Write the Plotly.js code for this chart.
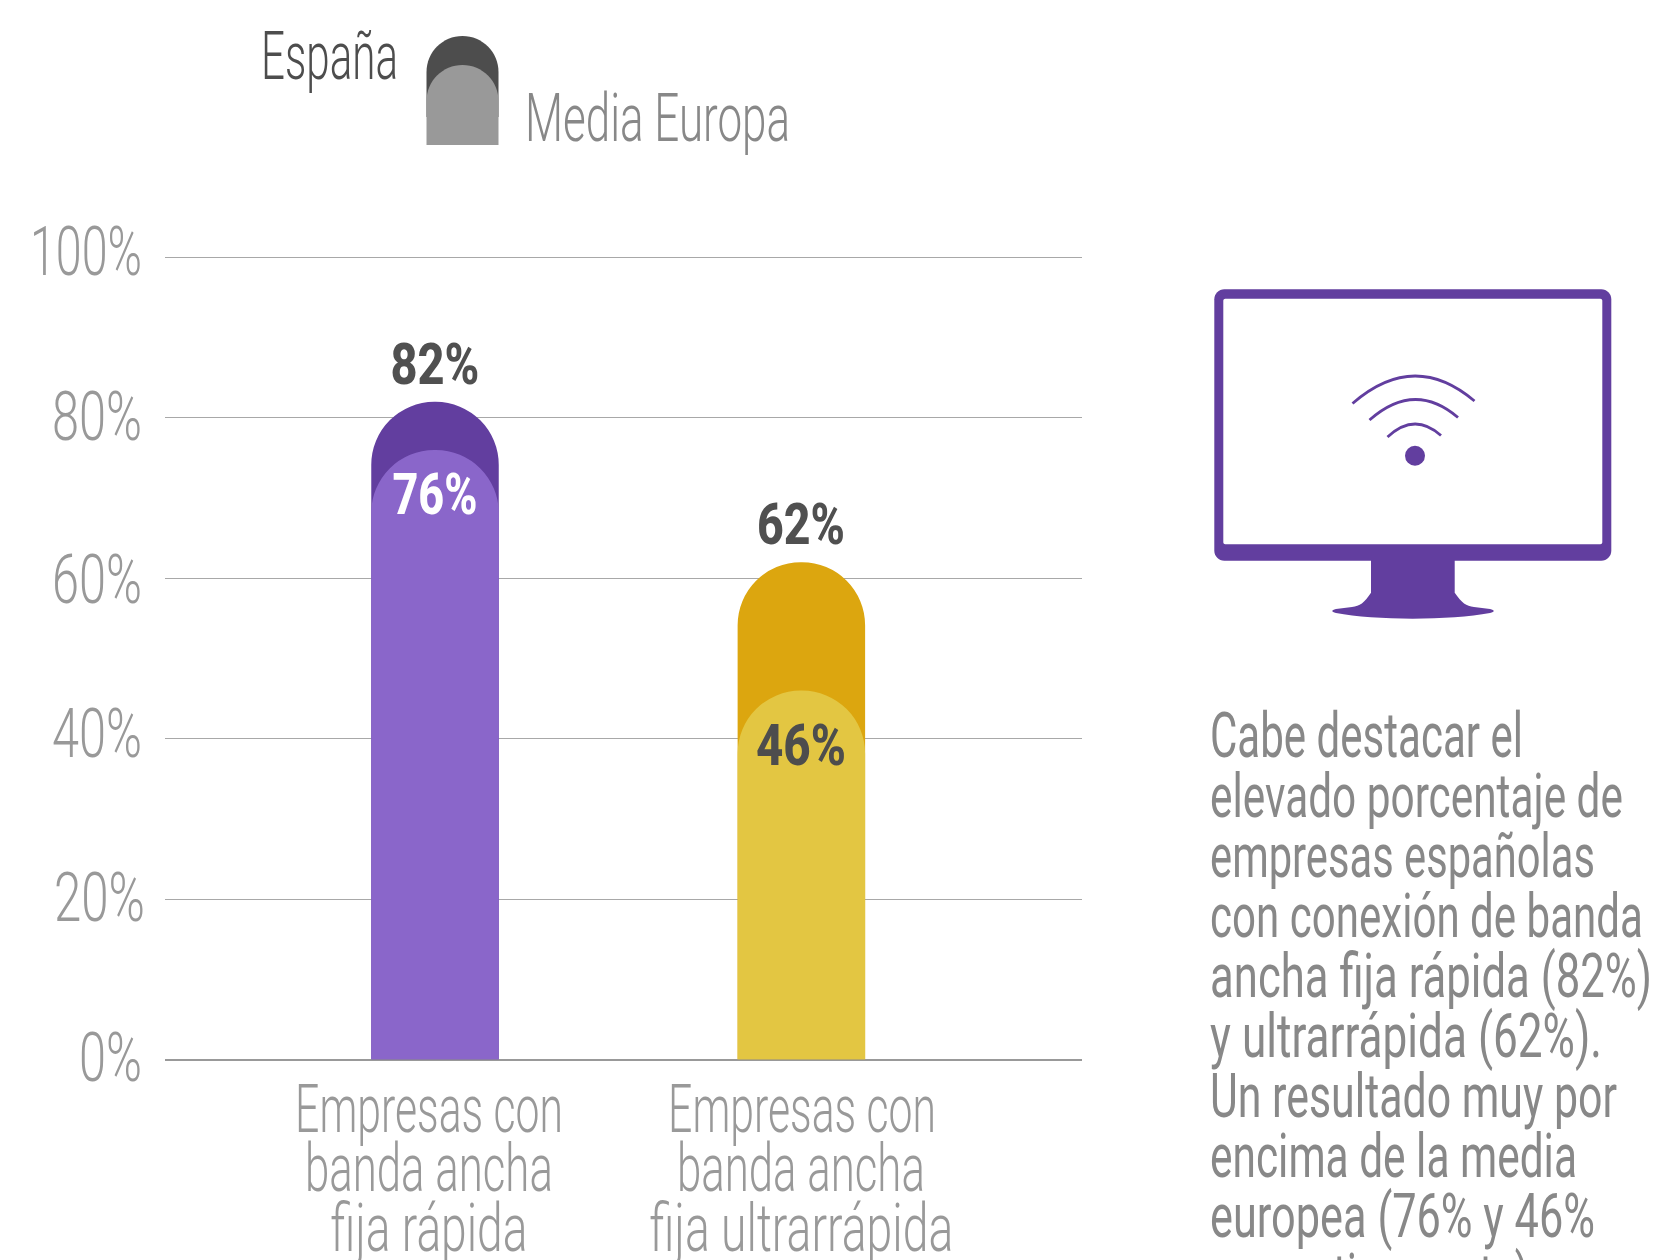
<!DOCTYPE html>
<html><head><meta charset="utf-8">
<style>html,body{margin:0;padding:0;background:#fff;overflow:hidden}#chart{width:1660px;height:1260px}</style>
<script src="https://cdn.plot.ly/plotly-3.0.1.min.js"></script></head>
<body><div id="chart"></div>
<script>
const categories = ["Empresas con banda ancha fija rápida", "Empresas con banda ancha fija ultrarrápida"];
const categoryLines = [["Empresas con", "banda ancha", "fija rápida"], ["Empresas con", "banda ancha", "fija ultrarrápida"]];
const espana = [82, 62];
const mediaEuropa = [76, 46];
const espanaColors = ["#623e9f", "#dca60f"];
const europaColors = ["#8a66ca", "#e3c642"];
const yTicks = [0, 20, 40, 60, 80, 100];
const yTickLabels = ["0%", "20%", "40%", "60%", "80%", "100%"];
const sideText = ["Cabe destacar el", "elevado porcentaje de", "empresas españolas", "con conexión de banda", "ancha fija rápida (82%)", "y ultrarrápida (62%).", "Un resultado muy por", "encima de la media", "europea (76% y 46%", "respectivamente)."];

const W = 1660, H = 1260;
const px = x => x / W, py = y => 1 - y / H;
const FONT = "Roboto, 'Liberation Sans Narrow', sans-serif";
const P = (x, y) => px(x) + "," + py(y);
function roundTop(x0, x1, top, bottom) {
  const r = (x1 - x0) / 2, k = 0.5523 * r, m = (x0 + x1) / 2;
  return "M" + P(x0, bottom) + " L" + P(x0, top + r) +
    " C" + P(x0, top + r - k) + " " + P(m - k, top) + " " + P(m, top) +
    " C" + P(m + k, top) + " " + P(x1, top + r - k) + " " + P(x1, top + r) +
    " L" + P(x1, bottom) + " Z";
}
function roundRect(x0, y0, x1, y1, r) {
  const k = 0.45 * r;
  return "M" + P(x0 + r, y0) + " L" + P(x1 - r, y0) + " C" + P(x1 - k, y0) + " " + P(x1, y0 + k) + " " + P(x1, y0 + r) +
    " L" + P(x1, y1 - r) + " C" + P(x1, y1 - k) + " " + P(x1 - k, y1) + " " + P(x1 - r, y1) +
    " L" + P(x0 + r, y1) + " C" + P(x0 + k, y1) + " " + P(x0, y1 - k) + " " + P(x0, y1 - r) +
    " L" + P(x0, y0 + r) + " C" + P(x0, y0 + k) + " " + P(x0 + k, y0) + " " + P(x0 + r, y0) + " Z";
}
const purple = "#623e9f";
const solid = (path, color) => ({type: "path", xref: "paper", yref: "paper", path, fillcolor: color, line: {width: 0}, layer: "above"});
const arc = (x0, y0, xm, ym, x1, y1) => ({type: "path", xref: "paper", yref: "paper",
  path: "M" + P(x0, y0) + " Q" + P(xm, 2 * ym - (y0 + y1) / 2) + " " + P(x1, y1),
  line: {color: purple, width: 2.8}, fillcolor: "rgba(0,0,0,0)", layer: "above"});

const shapes = [
  solid(roundTop(426.5, 498.5, 36, 117), "#4d4d4d"),
  solid(roundTop(426.5, 498.5, 65, 145), "#999999"),
  solid(roundRect(1214.3, 289.3, 1611.3, 560.7, 10), purple),
  solid(roundRect(1223.3, 298.7, 1602.3, 544.3, 2), "#ffffff"),
  solid("M" + P(1371, 560) + " L" + P(1454.7, 560) + " L" + P(1454.7, 592.7) +
    " C" + P(1462, 603) + " " + P(1466, 606) + " " + P(1474, 607) +
    " L" + P(1490, 609) + " C" + P(1495, 610) + " " + P(1495, 612) + " " + P(1490, 613) +
    " C" + P(1450, 620.5) + " " + P(1375, 620.5) + " " + P(1336, 613) +
    " C" + P(1331, 612) + " " + P(1331, 610) + " " + P(1336, 609) +
    " L" + P(1352, 607) + " C" + P(1360, 606) + " " + P(1364, 603) + " " + P(1371, 592.7) + " Z", purple),
  arc(1352.5, 403.5, 1414, 376, 1474.5, 401),
  arc(1369.5, 420, 1414.5, 399.5, 1458, 417.5),
  arc(1387.5, 437, 1414.5, 424, 1441, 435.5),
  {type: "circle", xref: "paper", yref: "paper", x0: px(1405), x1: px(1425), y0: py(465.7), y1: py(445.7), fillcolor: purple, line: {width: 0}, layer: "above"}
];

// each annotation: text, baseline y in px, target width in px (glyphs are fitted to it)
const annotations = [], fit = [];
const DESC = 0.24;
function label(text, x, baseline, size, color, weight, anchor, width, opts) {
  annotations.push(Object.assign({
    text, x: px(x), xref: "paper", yref: "paper", xanchor: anchor, yanchor: "bottom",
    y: py(baseline + DESC * size + 1), showarrow: false, borderpad: 0, borderwidth: 0,
    font: {family: FONT, size, color, weight}
  }, opts || {}));
  fit.push({width, anchor});
}
// category labels
const catCenters = [[429.3, 428.8, 428.8], [802, 801.4, 801]];
const catWidths = [[268, 248, 197], [268, 248, 304]];
const catBaselines = [1131.7, 1191, 1250.7];
categoryLines.forEach((lines, i) => lines.forEach((t, j) =>
  label(t, catCenters[i][j], catBaselines[j] - 1, 66, "#999999", 300, "center", catWidths[i][j])));
// value labels, anchored to the data axis
const VS = 58;
const valueLabel = (v, i, baseline, valueY, color, width) => label(v + "%", 0, baseline, VS, color, 800, "center", width, {
  xref: "x", x: i, yref: "y", y: v, yshift: valueY - baseline - DESC * VS - 1});
valueLabel(espana[0], 0, 383, 402, "#505050", 89);
valueLabel(espana[1], 1, 543, 562, "#505050", 88);
valueLabel(mediaEuropa[0], 0, 512.7, 450, "#ffffff", 85);
valueLabel(mediaEuropa[1], 1, 765, 691, "#4d4d4d", 90);
// legend labels
label("España", 261, 78, 66, "#4d4d4d", 300, "left", 137);
label("Media Europa", 524.5, 139.7, 66, "#888888", 300, "left", 265);
// side paragraph
const sideWidths = [313, 413, 385, 433, 442, 392, 407, 367, 385, 330];
sideText.forEach((t, i) => label(t, 1210, 756 + i * 60.05, 62, "#888888", 400, "left", sideWidths[i]));

const barTrace = (name, y, colors, xa, ya) => ({
  type: "bar", name, x: categories, y, width: 0.348, showlegend: false, hoverinfo: "skip", xaxis: xa, yaxis: ya,
  marker: {color: colors, cornerradius: "50%", line: {width: 0}}
});
const traces = [barTrace("España", espana, espanaColors, "x", "y"), barTrace("Media Europa", mediaEuropa, europaColors, "x2", "y2")];

const X_RANGE = [-0.737, 1.766], Y_RANGE = [0, 102];
const X_DOMAIN = [px(165), px(1082)], Y_DOMAIN = [py(1059.5), py(1059.5 - 102 * 8.02)];
const layout = {
  width: W, height: H, margin: {l: 0, r: 0, t: 0, b: 0}, paper_bgcolor: "#fff", plot_bgcolor: "#fff",
  barmode: "overlay", showlegend: false, shapes, annotations,
  font: {family: FONT},
  xaxis: {type: "category", domain: X_DOMAIN, range: X_RANGE, showticklabels: false, showgrid: false, zeroline: false, showline: false, ticks: "", fixedrange: true},
  yaxis: {domain: Y_DOMAIN, range: Y_RANGE, tickmode: "array", tickvals: yTicks, ticktext: yTickLabels,
    tickfont: {family: FONT, size: 68, color: "#999999", weight: 300}, ticks: "", ticklabelstandoff: 22,
    gridcolor: "#a8a8a8", gridwidth: 1, zeroline: true, zerolinecolor: "#999999", zerolinewidth: 2, showline: false, fixedrange: true},
  xaxis2: {type: "category", overlaying: "x", anchor: "y2", domain: X_DOMAIN, range: X_RANGE, visible: false, fixedrange: true},
  yaxis2: {overlaying: "y", anchor: "x2", domain: Y_DOMAIN, range: Y_RANGE, visible: false, fixedrange: true}
};

// fine placement of the tick labels: target width, nudge in px
const tickFit = {"0%": [63, 0, -2], "20%": [91, 3, -2], "40%": [90, 0, -6], "60%": [90, 0, 1], "80%": [90, 0, -2], "100%": [112, 0, -6]};
function fitText(el, width, anchor, dx, dy) {
  const b = el.getBBox();
  const cx = anchor === "left" ? b.x : anchor === "right" ? b.x + b.width : b.x + b.width / 2;
  const t = el.getAttribute("transform") || "";
  const s = width / b.width;
  el.setAttribute("transform", t + " translate(" + (cx + (dx || 0)) + "," + (dy || 0) + ") scale(" + s + ",1) translate(" + (-cx) + ",0)");
}
Plotly.newPlot("chart", traces, layout, {displayModeBar: false, staticPlot: true}).then(gd => {
  document.fonts.ready.then(() => {
    gd.querySelectorAll(".ytick text").forEach(el => {
      const f = tickFit[el.textContent];
      if (f) fitText(el, f[0], "right", f[1], f[2]);
    });
    gd.querySelectorAll(".annotation").forEach(g => {
      const s = fit[+g.getAttribute("data-index")];
      fitText(g.querySelector("text"), s.width, s.anchor);
    });
  });
});
</script></body></html>
